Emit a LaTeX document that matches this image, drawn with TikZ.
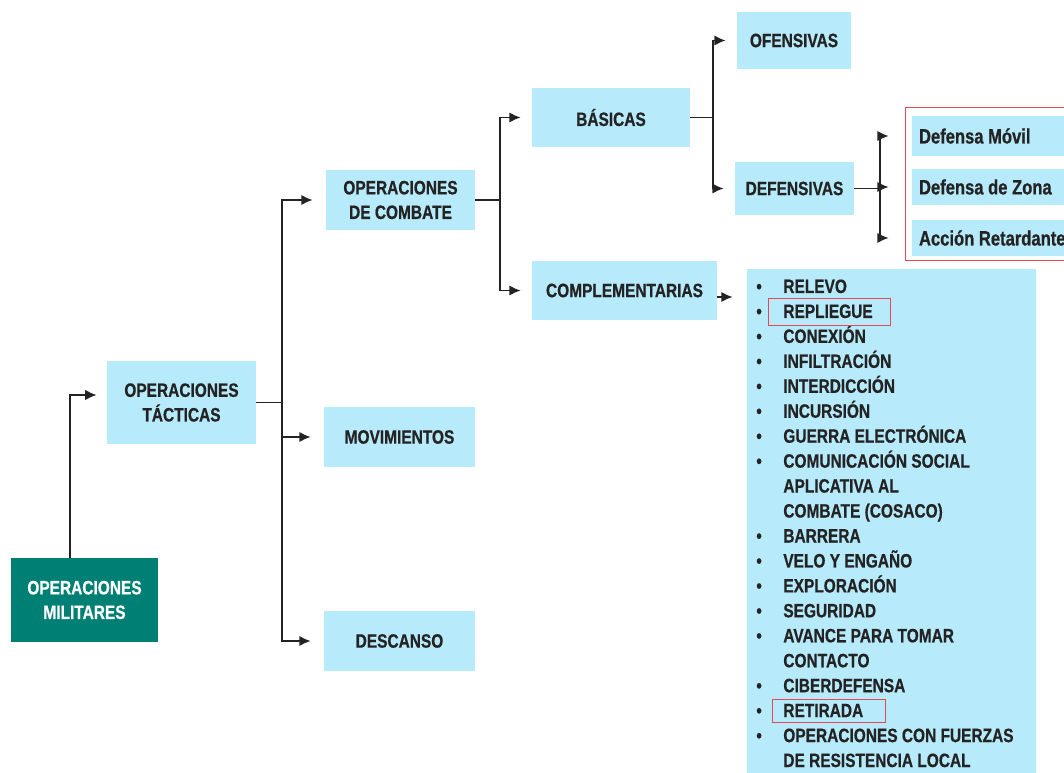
\documentclass[tikz,border=0pt]{standalone}
\usepackage{fontspec}
\setmainfont{Liberation Sans}[FakeStretch=0.8, BoldFeatures={FakeBold=0.6}]
\usetikzlibrary{arrows.meta}
\definecolor{celeste}{RGB}{183,234,250}
\definecolor{verdeop}{RGB}{0,128,116}
\definecolor{rojo}{RGB}{225,75,85}
\definecolor{texto}{RGB}{35,35,35}

\begin{document}
\begin{tikzpicture}[x=0.02cm, y=-0.02cm,
	caja/.style={fill=celeste, text=texto, font=\fontsize{11}{14}\selectfont\bfseries, align=center, inner sep=0pt},
	item/.style={anchor=base west, inner sep=0pt, text=texto, font=\fontsize{11}{14}\selectfont\bfseries},
	linea/.style={line width=1.1pt, texto},
	flecha/.style={linea, -{Latex[length=6.5pt,width=6pt]}, shorten >=#1},
	flecha/.default=0.26cm]

		\useasboundingbox (0,0) rectangle (1064,773);

		%cajas
		\node[caja, fill=verdeop, text=white, minimum width=2.94cm, minimum height=1.68cm] (om) at (84.5,600) {OPERACIONES\\MILITARES};
		\node[caja, minimum width=2.98cm, minimum height=1.66cm] (ot) at (181.5,402.5) {OPERACIONES\\TÁCTICAS};
		\node[caja, minimum width=2.98cm, minimum height=1.2cm] (oc) at (400.5,200) {OPERACIONES\\DE COMBATE};
		\node[caja, minimum width=3.02cm, minimum height=1.2cm] (mov) at (399.5,437) {MOVIMIENTOS};
		\node[caja, minimum width=3.02cm, minimum height=1.2cm] (des) at (399.5,641) {DESCANSO};
		\node[caja, minimum width=3.16cm, minimum height=1.18cm] (bas) at (611,117.5) {BÁSICAS};
		\node[caja, minimum width=3.7cm, minimum height=1.18cm] (comp) at (624.5,290.5) {COMPLEMENTARIAS};
		\node[caja, minimum width=2.28cm, minimum height=1.14cm] (ofe) at (794,40.5) {OFENSIVAS};
		\node[caja, minimum width=2.38cm, minimum height=1.06cm] (def) at (794.5,188.5) {DEFENSIVAS};
		\node[caja, minimum width=3.26cm, minimum height=0.8cm] (dm) at (993.5,136) {};
		\node[caja, minimum width=3.26cm, minimum height=0.72cm] (dz) at (993.5,187) {};
		\node[caja, minimum width=3.26cm, minimum height=0.72cm] (ar) at (993.5,238) {};
		\node[caja, minimum width=5.78cm, minimum height=10.22cm] (lista) at (891.5,524.5) {};

		%textos de la defensa
		\node[item, anchor=west, font=\fontsize{11.8}{14}\selectfont\bfseries] (tdm) at ([xshift=0.14cm]dm.west) {Defensa Móvil};
		\node[item, anchor=west, font=\fontsize{11.8}{14}\selectfont\bfseries] (tdz) at ([xshift=0.14cm]dz.west) {Defensa de Zona};
		\node[item, anchor=west, font=\fontsize{11.8}{14}\selectfont\bfseries] (tar) at ([xshift=0.14cm]ar.west) {Acción Retardante};

		%marco rojo
		\draw[rojo] (905,107) rectangle (1075,260);

		%lista de operaciones complementarias
		\foreach \n/\t in {1/RELEVO, 2/REPLIEGUE, 3/CONEXIÓN, 4/INFILTRACIÓN, 5/INTERDICCIÓN,
			6/INCURSIÓN, 7/GUERRA ELECTRÓNICA, 8/COMUNICACIÓN SOCIAL, 9/APLICATIVA AL,
			10/{COMBATE (COSACO)}, 11/BARRERA, 12/VELO Y ENGAÑO, 13/EXPLORACIÓN, 14/SEGURIDAD,
			15/AVANCE PARA TOMAR, 16/CONTACTO, 17/CIBERDEFENSA, 18/RETIRADA,
			19/OPERACIONES CON FUERZAS, 20/DE RESISTENCIA LOCAL}
			\node[item] (it\n) at (783,{293+24.95*(\n-1)}) {\t};
		\foreach \n in {1,...,8,11,12,13,14,15,17,18,19}
			\node[item] at (756,{293+24.95*(\n-1)}) {•};

		\draw[rojo] (768,298) rectangle (890,325);
		\draw[rojo] (772,699) rectangle (885,722);

		%conectores
		\coordinate (j1) at (282,402.5);
		\coordinate (j2) at (500,200);
		\coordinate (j3) at (713,117.5);
		\coordinate (j4) at (880,188.5);

		\draw[flecha=0.2cm] ([xshift=-0.29cm]om.north) |- ([yshift=0.15cm]ot.west);

		\draw[linea] (ot.east) -- (j1);
		\foreach \d in {oc,mov,des}
			\draw[flecha] (j1) |- (\d.west);

		\draw[linea] (oc.east) -- (j2);
		\foreach \d in {bas,comp}
			\draw[flecha=0.22cm] (j2) |- (\d.west);

		\draw[linea] (bas.east) -- (j3);
		\foreach \d in {ofe,def}
			\draw[flecha=0.22cm] (j3) |- (\d.west);

		\draw[linea] (def.east) -- (j4);
		\foreach \d in {dm,dz,ar}
			\draw[flecha=0.46cm] (j4) |- (\d.west);

		\draw[flecha=0.28cm] ([yshift=-0.13cm]comp.east) -- ([yshift=-0.13cm]comp.east -| lista.west);

\end{tikzpicture}
\end{document}
